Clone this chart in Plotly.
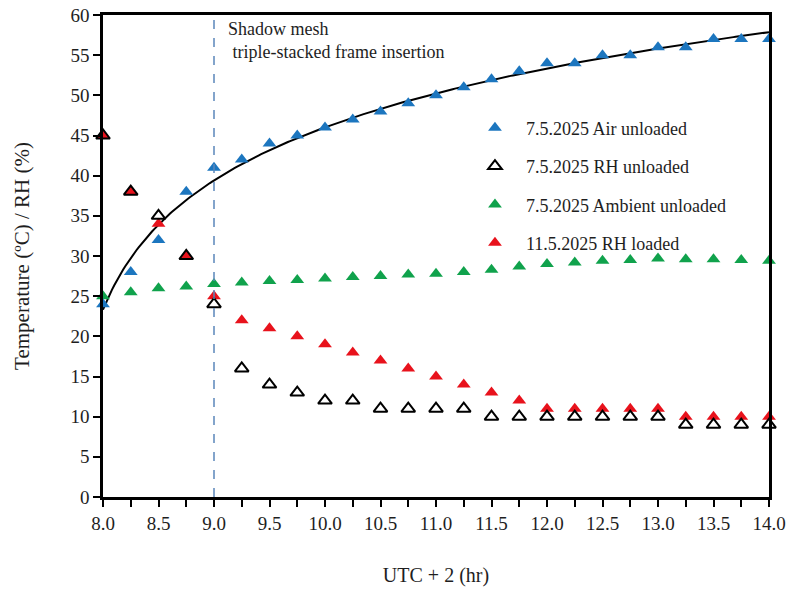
import numpy as np
import plotly.graph_objects as go

hours = [8.0, 8.25, 8.5, 8.75, 9.0, 9.25, 9.5, 9.75, 10.0, 10.25, 10.5, 10.75, 11.0,
         11.25, 11.5, 11.75, 12.0, 12.25, 12.5, 12.75, 13.0, 13.25, 13.5, 13.75, 14.0]
air_unloaded = [24, 28, 32, 38, 41, 42, 44, 45, 46, 47, 48, 49, 50,
                51, 52, 53, 54, 54, 55, 55, 56, 56, 57, 57, 57]
rh_unloaded = [45, 38, 35, 30, 24, 16, 14, 13, 12, 12, 11, 11, 11,
               11, 10, 10, 10, 10, 10, 10, 10, 9, 9, 9, 9]
ambient_unloaded = [25, 25.5, 26, 26.2, 26.5, 26.7, 26.9, 27, 27.2, 27.4, 27.5, 27.7, 27.8,
                    28, 28.3, 28.7, 29, 29.2, 29.4, 29.5, 29.7, 29.6, 29.6, 29.5, 29.4]
rh_loaded = [45, 38, 34, 30, 25, 22, 21, 20, 19, 18, 17, 16, 15,
             14, 13, 12, 11, 11, 11, 11, 11, 10, 10, 10, 10]

names = ["7.5.2025 Air unloaded", "7.5.2025 RH unloaded",
         "7.5.2025 Ambient unloaded", "11.5.2025 RH loaded"]
annotation_text = "Shadow mesh<br> triple-stacked frame insertion"
x_ticks = [8.0, 8.5, 9.0, 9.5, 10.0, 10.5, 11.0, 11.5, 12.0, 12.5, 13.0, 13.5, 14.0]
y_ticks = list(range(0, 65, 5))
insertion_time = 9.0

# logarithmic trendline of the air temperature
offset = 7.65
hx = np.array(hours)
b, a = np.polyfit(np.log(hx - offset), np.array(air_unloaded), 1)
xf = np.linspace(8.0, 14.0, 300)
yf = a + b * np.log(xf - offset)

FONT = "Liberation Serif"
TXT = "#1e1e1e"
BLUE = "#1c76bf"
GREEN = "#10a24c"
RED = "#e8121c"
MS = 12

fig = go.Figure()
fig.add_trace(go.Scatter(x=xf, y=yf, mode="lines", line=dict(color="black", width=2),
                         showlegend=False, hoverinfo="skip"))
fig.add_trace(go.Scatter(x=hours, y=ambient_unloaded, mode="markers", name=names[2],
                         legendgroup="c", legendrank=3, cliponaxis=False,
                         marker=dict(symbol="triangle-up", size=MS, color=GREEN)))
fig.add_trace(go.Scatter(x=hours, y=air_unloaded, mode="markers", name=names[0],
                         legendgroup="a", legendrank=1, cliponaxis=False,
                         marker=dict(symbol="triangle-up", size=MS, color=BLUE)))
fig.add_trace(go.Scatter(x=hours, y=rh_loaded, mode="markers", name=names[3],
                         legendgroup="d", legendrank=4, cliponaxis=False,
                         marker=dict(symbol="triangle-up", size=MS, color=RED)))
fig.add_trace(go.Scatter(x=hours, y=rh_unloaded, mode="markers", name=names[1],
                         legendgroup="b", legendrank=2, cliponaxis=False,
                         marker=dict(symbol="triangle-up-open", size=MS, color="black",
                                     line=dict(width=2, color="black"))))

fig.add_shape(type="line", x0=insertion_time, x1=insertion_time, y0=0, y1=60,
              xref="x", yref="y", line=dict(color="#5b86ba", width=1.5, dash="dash"))
fig.add_annotation(x=insertion_time, y=60, xref="x", yref="y", text=annotation_text,
                   showarrow=False, xanchor="left", yanchor="top", align="left",
                   xshift=12, yshift=-2, font=dict(family=FONT, size=18, color=TXT))

axis_common = dict(showline=True, linecolor="black", linewidth=2.5, mirror=True,
                   ticks="outside", ticklen=7, tickwidth=2, tickcolor="black",
                   showgrid=False, zeroline=False, automargin=False,
                   tickfont=dict(family=FONT, size=19, color=TXT))
fig.update_xaxes(range=[8.0, 14.0], tickvals=x_ticks, tickformat=".1f",
                 minor=dict(ticks="outside", dtick=0.25, ticklen=7, tickwidth=2,
                            tickcolor="black", showgrid=False),
                 title=dict(text="UTC + 2 (hr)", font=dict(family=FONT, size=20, color=TXT),
                            standoff=36),
                 **axis_common)
fig.update_yaxes(range=[0, 60], tickvals=y_ticks,
                 title=dict(text="Temperature (ºC) / RH (%)",
                            font=dict(family=FONT, size=21, color=TXT), standoff=36),
                 **axis_common)

fig.update_layout(
    width=793, height=589,
    margin=dict(l=103, r=24, t=15, b=92),
    paper_bgcolor="white", plot_bgcolor="white",
    legend=dict(x=0.542, y=0.804, xanchor="left", yanchor="top",
                font=dict(family=FONT, size=18, color=TXT),
                bgcolor="rgba(0,0,0,0)", tracegroupgap=12, itemwidth=52),
)

fig.write_html("out.html")
